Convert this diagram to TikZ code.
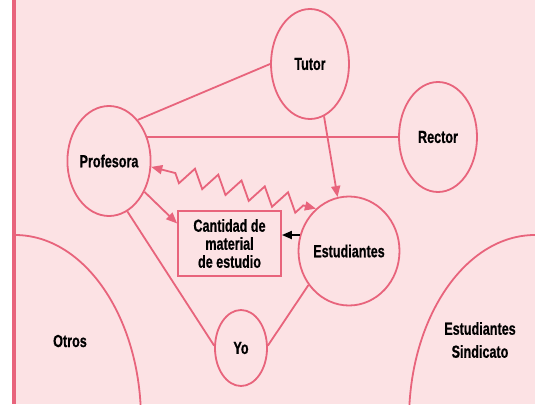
\documentclass[tikz,border=0pt]{standalone}
\usepackage{fontspec}
\setmainfont{Liberation Sans}[FakeStretch=0.72,BoldFeatures={FakeBold=0.6}]
\usetikzlibrary{shapes.geometric,arrows.meta,decorations.pathmorphing,calc}
\definecolor{bgpink}{RGB}{252,226,228}
\definecolor{lpink}{RGB}{232,100,124}
\begin{document}
\begin{tikzpicture}[x=1pt,y=-1pt,
  lbl/.style={font=\fontsize{17.5}{18}\selectfont\bfseries},
  oval/.style={ellipse,draw=lpink,line width=1.8pt,inner sep=0pt,lbl},
  conn/.style={draw=lpink,line width=1.8pt},
  tip/.style={-{Triangle[length=11pt,width=9pt]}},
  bitip/.style={{Triangle[length=11pt,width=9pt]}-{Triangle[length=11pt,width=9pt]}}
]
\useasboundingbox (0,0) rectangle (535,404);
\fill[bgpink] (15,0) rectangle (535,404);
\begin{scope}
\clip (15,0) rectangle (535,404);
\draw[conn] (15,420) ellipse [x radius=126, y radius=185];
\draw[conn] (535,420) ellipse [x radius=126, y radius=185];
\end{scope}
\draw[lpink,line width=4pt] (14,0) -- (14,404);

\node[oval,minimum width=78,minimum height=110] (tutor) at (310,64) {Tutor};
\node[oval,minimum width=78,minimum height=110] (rector) at (438,137) {Rector};
\node[oval,minimum width=78,minimum height=110] (prof) at (109,161) {Profesora};
\node[oval,minimum width=76,minimum height=109] (est) at (349,251) {Estudiantes};
\node[oval,minimum width=52,minimum height=76] (yo) at (241,348) {Yo};
\node[draw=lpink,line width=1.8pt,minimum width=103,minimum height=65,inner sep=0pt,align=center,lbl] (box) at (229.5,243.5) {Cantidad de\\material\\de estudio};
\node[lbl] (otros) at (70,341) {Otros};
\node[lbl,align=center] (sind) at (480,340) {Estudiantes\\[5pt]Sindicato};

\draw[conn] (tutor.west) -- (prof.55);
\draw[conn,line width=2pt] (rector.west) -- (rector.west -| prof.34);
\draw[conn,tip,lpink] (tutor.-75) -- (est.102);
\draw[conn,bitip,lpink,decorate,decoration={zigzag,segment length=24pt,amplitude=9pt,pre length=13pt,post length=13pt}] (est.128) -- (prof.-8);
\draw[conn,tip,lpink] (prof.-41) -- ($(box.north west)!0.2!(box.south west)$);
\draw[line width=1.8pt,-{Triangle[length=10pt,width=8pt]}] (est.162) -- (est.162 -| box.east);
\draw[conn] (prof.-70) -- (yo.175);
\draw[conn] (yo.5) -- (est.220);
\end{tikzpicture}
\end{document}
